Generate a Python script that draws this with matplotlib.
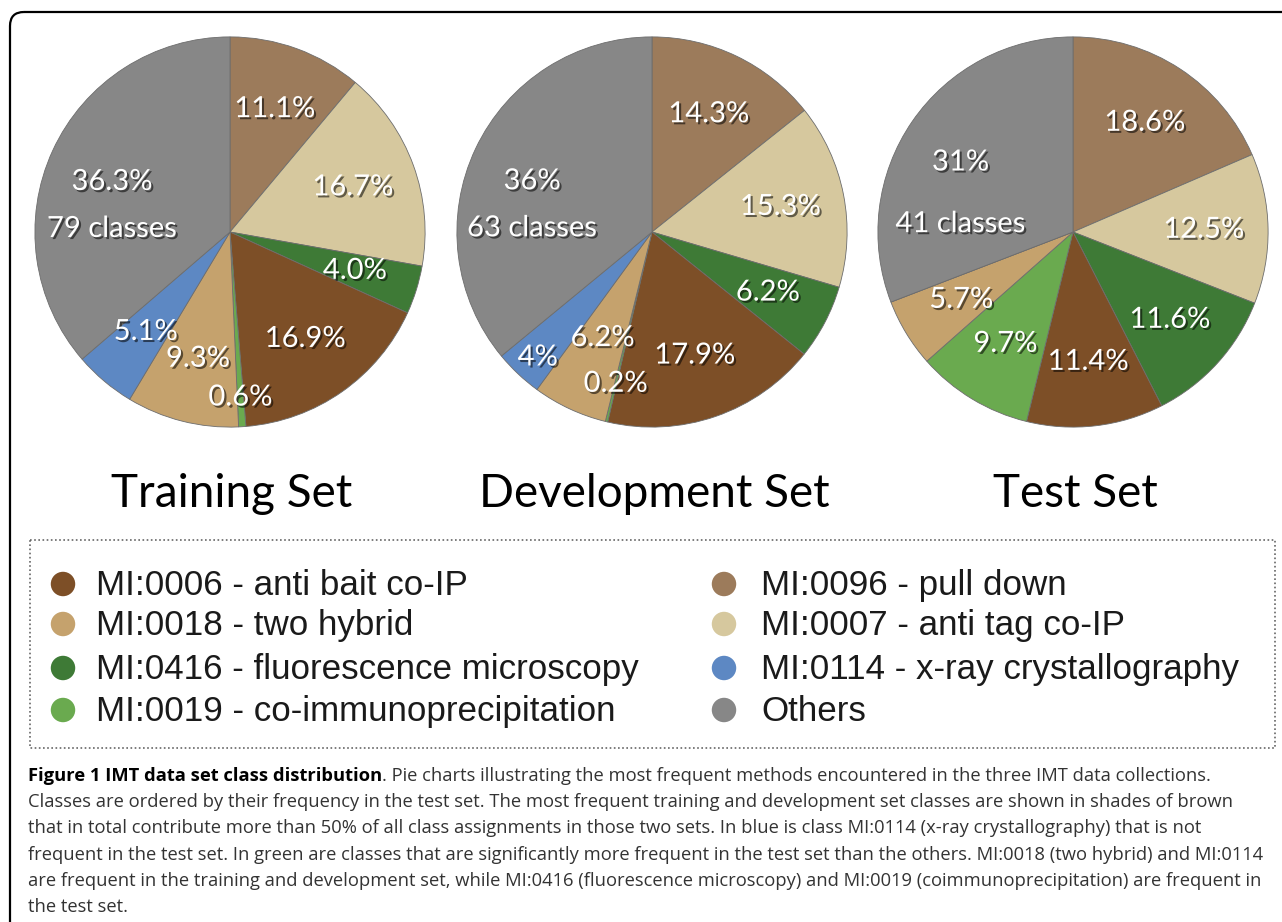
import matplotlib
matplotlib.use("Agg")
import matplotlib.pyplot as plt
import matplotlib.patheffects as pe
from matplotlib.patches import FancyBboxPatch, Rectangle
import numpy as np

W, H = 1282, 922

# classes in pie order (clockwise from 12 o'clock)
classes = ["MI:0096 - pull down", "MI:0007 - anti tag co-IP",
           "MI:0416 - fluorescence microscopy", "MI:0006 - anti bait co-IP",
           "MI:0019 - co-immunoprecipitation", "MI:0018 - two hybrid",
           "MI:0114 - x-ray crystallography", "Others"]
colors = ["#9c7b5b", "#d6c89e", "#3e7a36", "#7d4f27",
          "#6aaa4f", "#c5a26d", "#5d88c3", "#878787"]

training = [11.1, 16.7, 4.0, 16.9, 0.6, 9.3, 5.1, 36.3]
development = [14.3, 15.3, 6.2, 17.9, 0.2, 6.2, 4, 36]
test = [18.6, 12.5, 11.6, 11.4, 9.7, 5.7, 0, 31]

training_lbl = ["11.1%", "16.7%", "4.0%", "16.9%", "0.6%", "9.3%", "5.1%", "36.3%\n79 classes"]
development_lbl = ["14.3%", "15.3%", "6.2%", "17.9%", "0.2%", "6.2%", "4%", "36%\n63 classes"]
test_lbl = ["18.6%", "12.5%", "11.6%", "11.4%", "9.7%", "5.7%", "", "31%\n41 classes"]

titles = ["Training Set", "Development Set", "Test Set"]

legend_col1 = [3, 5, 2, 4]
legend_col2 = [0, 1, 6, 7]

# label placement tweaks: (radius fraction, angle nudge in deg, linespacing)
place = [
    {4: (0.85, 0, 1), 7: (0.62, 12, 2.0)},
    {4: (0.80, 0, 1), 5: (0.60, 0, 1), 6: (0.87, 1, 1), 7: (0.63, 12.5, 2.0)},
    {7: (0.61, 15.5, 2.7)},
]

centers = [(230, 232), (652, 232), (1073, 232)]
R = 195

fig = plt.figure(figsize=(W / 100, H / 100), dpi=100)
bg = fig.add_axes([0, 0, 1, 1])
bg.set_xlim(0, W)
bg.set_ylim(H, 0)
bg.axis("off")

bg.add_patch(FancyBboxPatch((10, 12), W + 40, H + 40,
                            boxstyle="round,pad=0,rounding_size=14",
                            fill=False, edgecolor="black", linewidth=1.6))

shadow = [pe.withSimplePatchShadow(offset=(1.5, -1.5), shadow_rgbFace="black", alpha=0.55)]

for k, (vals, lbls) in enumerate(zip([training, development, test],
                                     [training_lbl, development_lbl, test_lbl])):
    cx, cy = centers[k]
    ax = fig.add_axes([(cx - R - 4) / W, (H - cy - R - 4) / H, (2 * R + 8) / W, (2 * R + 8) / H])
    wedges, _ = ax.pie(vals, colors=colors, startangle=90, counterclock=False,
                       wedgeprops=dict(edgecolor="#6d6d6d", linewidth=0.6))
    ax.set_xlim(-1.02, 1.02)
    ax.set_ylim(-1.02, 1.02)
    ax.set_aspect("equal")
    for i, w in enumerate(wedges):
        if not lbls[i]:
            continue
        r, nudge, ls = place[k].get(i, (0.67, 0, 1))
        ang = np.deg2rad((w.theta1 + w.theta2) / 2 + nudge)
        ax.text(r * np.cos(ang), r * np.sin(ang), lbls[i], color="white",
                fontsize=21, family="Lato", ha="center", va="center",
                linespacing=ls, path_effects=shadow)
    bg.text(cx + 2, 507, titles[k], fontsize=33, family="Lato",
            ha="center", va="baseline", color="black")

# legend box
bg.add_patch(Rectangle((30, 540), 1245, 208, fill=False, edgecolor="#666666",
                       linestyle=(0, (1, 1.5)), linewidth=1.2))
rows_y = [584, 624, 668, 710]
for col, (mx, tx) in zip([legend_col1, legend_col2], [(63, 96), (724, 761)]):
    for j, idx in enumerate(col):
        bg.scatter(mx, rows_y[j], s=310, color=colors[idx], edgecolors="none")
        bg.text(tx, rows_y[j] + 1, classes[idx], fontsize=25.2, family="Liberation Sans",
                va="center", ha="left", color="#1a1a1a")

# caption
cap_bold = "Figure 1 IMT data set class distribution"
cap_lines = [
    ". Pie charts illustrating the most frequent methods encountered in the three IMT data collections.",
    "Classes are ordered by their frequency in the test set. The most frequent training and development set classes are shown in shades of brown",
    "that in total contribute more than 50% of all class assignments in those two sets. In blue is class MI:0114 (x-ray crystallography) that is not",
    "frequent in the test set. In green are classes that are significantly more frequent in the test set than the others. MI:0018 (two hybrid) and MI:0114",
    "are frequent in the training and development set, while MI:0416 (fluorescence microscopy) and MI:0019 (coimmunoprecipitation) are frequent in",
    "the test set.",
]
cap_fs = 13.25
cap_font = "Open Sans"
y0, dy = 781, 26.2
tb = bg.text(28, y0, cap_bold, fontsize=cap_fs, family=cap_font,
             fontweight="bold", va="baseline", color="black")
bg.annotate(cap_lines[0], xy=(1, 0), xycoords=tb, xytext=(0, 0), textcoords="offset points",
            fontsize=cap_fs, family=cap_font, va="bottom", ha="left", color="#333333")
for n, line in enumerate(cap_lines[1:], start=1):
    bg.text(28, y0 + n * dy, line, fontsize=cap_fs, family=cap_font,
            va="baseline", color="#333333")

fig.savefig("out.png", dpi=100)
